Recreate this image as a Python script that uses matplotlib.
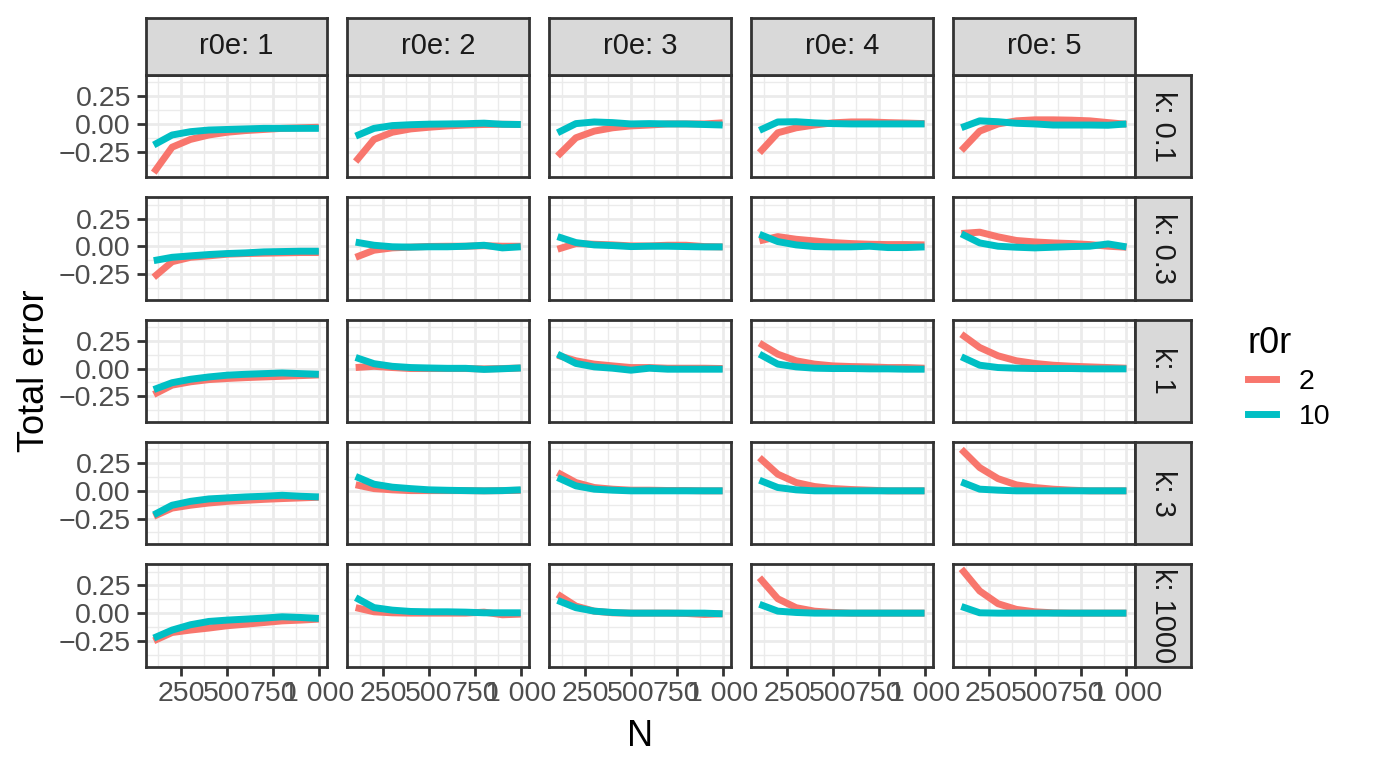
import numpy as np
import matplotlib
matplotlib.use('Agg')
import matplotlib.pyplot as plt
from matplotlib.lines import Line2D

plt.rcParams['font.family'] = ['Liberation Sans', 'DejaVu Sans']

# x values and facet levels
N = [100, 200, 300, 400, 500, 600, 700, 800, 900, 1000]
r0e_levels = [1, 2, 3, 4, 5]
k_levels = ['0.1', '0.3', '1', '3', '1000']
r0r_levels = ['2', '10']
x_ticks = [250, 500, 750, 1000]
x_tick_labels = ['250', '500', '750', '1 000']
y_ticks = [-0.25, 0.0, 0.25]
y_tick_labels = ['\u22120.25', '0.00', '0.25']

# total error, one row per r0e (1..5)
r2_k01 = [[-0.44, -0.21, -0.14, -0.10, -0.075, -0.06, -0.05, -0.04, -0.035, -0.03],
          [-0.34, -0.14, -0.075, -0.045, -0.03, -0.018, -0.01, -0.005, -0.003, -0.005],
          [-0.29, -0.125, -0.065, -0.035, -0.018, -0.01, 0.0, 0.0, 0.0, 0.01],
          [-0.26, -0.08, -0.035, -0.01, 0.01, 0.018, 0.018, 0.012, 0.008, 0.003],
          [-0.24, -0.065, 0.0, 0.028, 0.037, 0.037, 0.034, 0.028, 0.012, -0.003]]
r10_k01 = [[-0.19, -0.10, -0.07, -0.055, -0.05, -0.045, -0.04, -0.04, -0.04, -0.04],
           [-0.11, -0.04, -0.015, -0.007, -0.002, 0.0, 0.002, 0.007, -0.003, -0.005],
           [-0.08, 0.003, 0.018, 0.012, 0.0, 0.003, 0.0, 0.0, -0.005, -0.01],
           [-0.058, 0.018, 0.02, 0.01, 0.003, 0.0, 0.0, 0.0, 0.0, 0.0],
           [-0.034, 0.028, 0.02, 0.006, 0.0, -0.01, -0.01, -0.01, -0.012, 0.0]]

r2_k03 = [[-0.28, -0.14, -0.10, -0.087, -0.072, -0.066, -0.063, -0.06, -0.057, -0.057],
          [-0.10, -0.036, -0.015, -0.008, -0.002, 0.0, 0.0, 0.005, 0.0, 0.0],
          [-0.027, 0.024, 0.018, 0.012, 0.003, 0.003, 0.009, 0.009, -0.003, -0.006],
          [0.048, 0.087, 0.063, 0.048, 0.033, 0.024, 0.018, 0.015, 0.015, 0.012],
          [0.115, 0.127, 0.085, 0.052, 0.039, 0.03, 0.024, 0.015, 0.0, -0.009]]
r10_k03 = [[-0.13, -0.10, -0.087, -0.075, -0.066, -0.06, -0.051, -0.048, -0.045, -0.045],
           [0.037, 0.009, -0.005, -0.008, -0.005, -0.005, 0.0, 0.009, -0.015, -0.005],
           [0.087, 0.033, 0.012, 0.006, -0.003, 0.0, 0.0, -0.003, -0.006, -0.006],
           [0.108, 0.042, 0.012, -0.003, -0.006, -0.006, 0.0, -0.012, -0.012, -0.006],
           [0.112, 0.03, 0.0, -0.009, -0.015, -0.009, -0.003, 0.0, 0.021, -0.006]]

r2_k1 = [[-0.234, -0.15, -0.12, -0.10, -0.09, -0.082, -0.076, -0.07, -0.064, -0.058],
         [0.009, 0.02, 0.009, 0.0, 0.0, 0.0, 0.0, -0.003, 0.0, 0.005],
         [0.12, 0.07, 0.04, 0.024, 0.009, 0.009, 0.003, 0.003, 0.003, 0.0],
         [0.23, 0.13, 0.07, 0.04, 0.024, 0.018, 0.015, 0.009, 0.009, 0.003],
         [0.31, 0.19, 0.115, 0.07, 0.046, 0.03, 0.021, 0.015, 0.009, 0.003]]
r10_k1 = [[-0.19, -0.128, -0.097, -0.076, -0.06, -0.052, -0.046, -0.04, -0.046, -0.052],
          [0.10, 0.044, 0.02, 0.009, 0.005, 0.002, 0.002, -0.008, -0.002, 0.005],
          [0.13, 0.046, 0.015, 0.003, -0.015, 0.003, -0.006, -0.006, -0.006, -0.006],
          [0.13, 0.04, 0.015, 0.003, 0.0, 0.0, -0.003, -0.003, -0.006, -0.006],
          [0.106, 0.03, 0.009, 0.003, 0.0, 0.0, 0.0, -0.003, -0.003, -0.003]]

r2_k3 = [[-0.23, -0.156, -0.13, -0.11, -0.095, -0.086, -0.077, -0.07, -0.064, -0.058],
         [0.055, 0.02, 0.009, 0.002, 0.002, 0.002, 0.002, 0.0, 0.002, 0.005],
         [0.165, 0.075, 0.03, 0.015, 0.006, 0.006, 0.003, 0.003, 0.0, 0.0],
         [0.30, 0.15, 0.075, 0.039, 0.021, 0.012, 0.006, 0.0, 0.0, 0.0],
         [0.375, 0.21, 0.11, 0.054, 0.03, 0.015, 0.006, 0.0, 0.0, 0.0]]
r10_k3 = [[-0.217, -0.13, -0.095, -0.073, -0.064, -0.055, -0.049, -0.04, -0.049, -0.055],
          [0.13, 0.06, 0.033, 0.02, 0.009, 0.005, 0.002, 0.0, 0.002, 0.009],
          [0.12, 0.045, 0.015, 0.006, 0.0, 0.0, 0.0, 0.0, 0.0, 0.0],
          [0.096, 0.03, 0.009, 0.0, 0.0, 0.0, 0.0, 0.0, 0.0, 0.0],
          [0.08, 0.015, 0.006, 0.0, 0.0, 0.0, 0.0, 0.0, 0.0, 0.0]]

r2_k1000 = [[-0.25, -0.175, -0.153, -0.135, -0.114, -0.10, -0.085, -0.07, -0.063, -0.054],
            [0.05, 0.012, 0.003, 0.0, 0.0, 0.0, 0.0, 0.009, -0.015, -0.009],
            [0.17, 0.064, 0.018, 0.003, 0.0, 0.0, 0.0, -0.003, -0.012, -0.006],
            [0.32, 0.13, 0.049, 0.018, 0.006, 0.0, 0.0, 0.0, 0.0, 0.0],
            [0.40, 0.20, 0.085, 0.034, 0.012, 0.003, 0.0, 0.0, 0.0, 0.0]]
r10_k1000 = [[-0.225, -0.153, -0.105, -0.075, -0.063, -0.054, -0.045, -0.033, -0.039, -0.048],
             [0.14, 0.05, 0.027, 0.015, 0.012, 0.012, 0.009, 0.003, 0.003, 0.003],
             [0.115, 0.049, 0.018, 0.006, 0.0, 0.0, 0.0, 0.0, 0.0, -0.006],
             [0.08, 0.018, 0.006, 0.0, 0.0, 0.0, 0.0, 0.0, 0.0, 0.0],
             [0.06, 0.003, 0.0, 0.0, 0.0, 0.0, 0.0, 0.0, 0.0, 0.0]]

err_r2 = [r2_k01, r2_k03, r2_k1, r2_k3, r2_k1000]
err_r10 = [r10_k01, r10_k03, r10_k1, r10_k3, r10_k1000]

colors = ['#F8766D', '#00BFC4']
W, H = 1373, 771
border = '#333333'
lw_data = 5.0


def box(l, t, w, h):
    # pixel box (left, top, width, height) -> figure fraction
    return [l / W, 1 - (t + h) / H, w / W, h / H]


fig = plt.figure(figsize=(W / 100, H / 100), dpi=100)

# limits like ggplot: 5% expansion
xlo, xhi = min(N), max(N)
xpad = 0.05 * (xhi - xlo)
allv = np.concatenate([np.ravel(err_r2), np.ravel(err_r10)])
ylo, yhi = allv.min(), allv.max()
ypad = 0.05 * (yhi - ylo)

col_left, col_step, col_w = 145.5, 201.9, 181.6
row_top, row_step, row_h = 75.0, 122.3, 102.3

for i, k in enumerate(k_levels):
    for j, r0e in enumerate(r0e_levels):
        ax = fig.add_axes(box(col_left + j * col_step, row_top + i * row_step, col_w, row_h))
        ax.set_facecolor('white')
        ax.plot(N, err_r2[i][j], color=colors[0], lw=lw_data, solid_joinstyle='round', solid_capstyle='butt')
        ax.plot(N, err_r10[i][j], color=colors[1], lw=lw_data, solid_joinstyle='round', solid_capstyle='butt')
        ax.set_xlim(xlo - xpad, xhi + xpad)
        ax.set_ylim(ylo - ypad, yhi + ypad)
        ax.set_xticks(x_ticks)
        ax.set_xticks([125, 375, 625, 875], minor=True)
        ax.set_yticks(y_ticks)
        ax.set_yticks([-0.375, -0.125, 0.125, 0.375], minor=True)
        ax.grid(which='major', color='#EBEBEB', lw=2.0)
        ax.grid(which='minor', color='#EBEBEB', lw=1.0)
        ax.set_axisbelow(True)
        for s in ax.spines.values():
            s.set_color(border)
            s.set_linewidth(2.0)
        ax.tick_params(which='minor', length=0)
        ax.tick_params(which='major', length=6.5, width=2.0, color=border,
                       labelsize=20.5, labelcolor='#4D4D4D', pad=4)
        if j == 0:
            ax.set_yticklabels(y_tick_labels)
        else:
            ax.tick_params(axis='y', length=0, labelleft=False)
        if i == len(k_levels) - 1:
            ax.set_xticklabels(x_tick_labels)
        else:
            ax.tick_params(axis='x', length=0, labelbottom=False)

        # top strips
        if i == 0:
            sax = fig.add_axes(box(col_left + j * col_step, 17.5, col_w, row_top - 17.5))
            sax.set_facecolor('#D9D9D9')
            sax.set_xticks([])
            sax.set_yticks([])
            for s in sax.spines.values():
                s.set_color(border)
                s.set_linewidth(2.0)
            sax.text(0.5, 0.5, 'r0e: %d' % r0e, ha='center', va='center',
                     fontsize=21, color='#1A1A1A', transform=sax.transAxes)
        # right strips
        if j == len(r0e_levels) - 1:
            rl = col_left + j * col_step + col_w
            sax = fig.add_axes(box(rl, row_top + i * row_step, 1191 - rl, row_h))
            sax.set_facecolor('#D9D9D9')
            sax.set_xticks([])
            sax.set_yticks([])
            for s in sax.spines.values():
                s.set_color(border)
                s.set_linewidth(2.0)
            sax.text(0.5, 0.5, 'k: ' + k, ha='center', va='center', rotation=-90,
                     fontsize=21, color='#1A1A1A', transform=sax.transAxes)

# axis titles
fig.text(640 / W, 1 - 737 / H, 'N', ha='center', va='center', fontsize=26)
fig.text(35 / W, 1 - 371 / H, 'Total error', ha='center', va='center', rotation=90, fontsize=26)

# legend
handles = [Line2D([], [], color=c, lw=lw_data) for c in colors]
fig.legend(handles, r0r_levels, title='r0r', loc='upper left',
           bbox_to_anchor=(1222 / W, 1 - 300 / H), frameon=False,
           fontsize=20.5, title_fontsize=26, handlelength=1.0, handletextpad=0.8,
           labelspacing=0.3, alignment='left')

fig.savefig('out.png', dpi=100)
